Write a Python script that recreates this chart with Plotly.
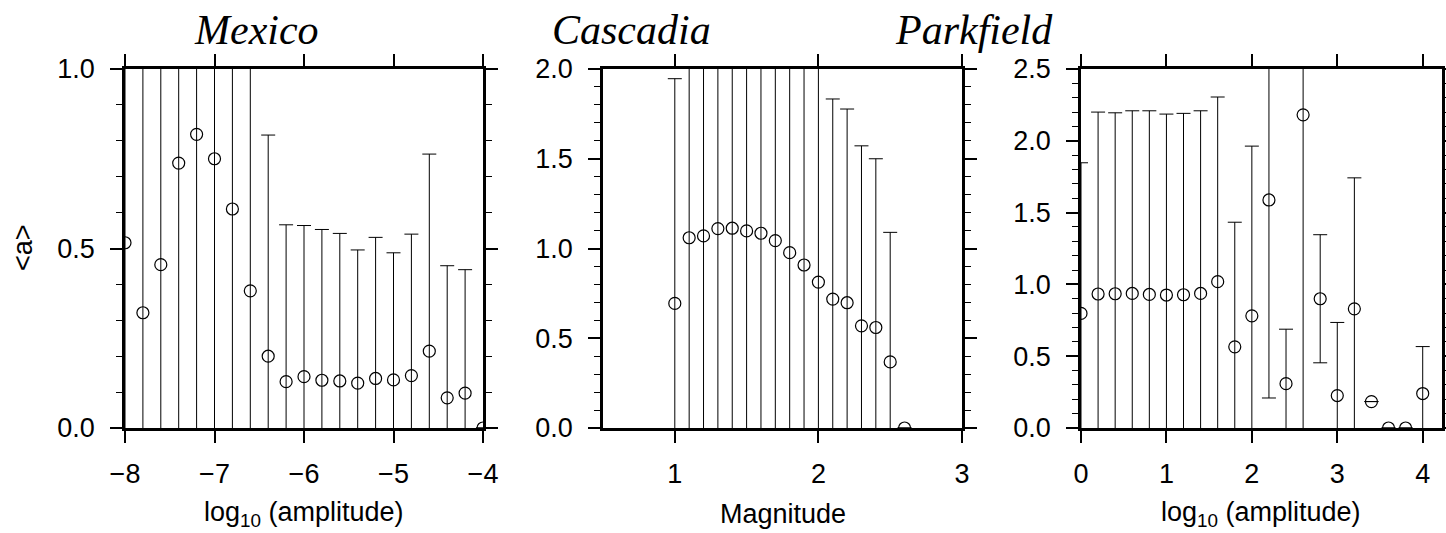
import plotly.graph_objects as go

# ---------------- data ----------------
mex_x = [-8.0, -7.8, -7.6, -7.4, -7.2, -7.0, -6.8, -6.6, -6.4, -6.2, -6.0,
         -5.8, -5.6, -5.4, -5.2, -5.0, -4.8, -4.6, -4.4, -4.2, -4.0]
mex_y = [0.516, 0.321, 0.455, 0.738, 0.818, 0.750, 0.610, 0.382, 0.200, 0.129, 0.143,
         0.133, 0.131, 0.125, 0.138, 0.134, 0.146, 0.214, 0.084, 0.097, 0.0]
mex_err = [1.10, 1.05, 1.00, 1.10, 1.20, 1.15, 1.05, 0.90, 0.616, 0.437, 0.421,
           0.420, 0.411, 0.371, 0.393, 0.354, 0.394, 0.549, 0.368, 0.344, None]

cas_x = [1.0, 1.1, 1.2, 1.3, 1.4, 1.5, 1.6, 1.7, 1.8, 1.9, 2.0,
         2.1, 2.2, 2.3, 2.4, 2.5, 2.6]
cas_y = [0.694, 1.060, 1.070, 1.111, 1.113, 1.098, 1.085, 1.044, 0.977, 0.908, 0.813,
         0.718, 0.698, 0.569, 0.560, 0.368, 0.0]
cas_err = [1.252, 1.30, 1.25, 1.20, 1.20, 1.25, 1.20, 1.15, 1.10, 1.15, 1.20,
           1.115, 1.079, 1.003, 0.940, 0.722, None]

park_x = [0.0, 0.2, 0.4, 0.6, 0.8, 1.0, 1.2, 1.4, 1.6, 1.8, 2.0,
          2.2, 2.4, 2.6, 2.8, 3.0, 3.2, 3.4, 3.6, 3.8, 4.0]
park_y = [0.798, 0.933, 0.935, 0.937, 0.930, 0.926, 0.928, 0.937, 1.019, 0.565, 0.781,
          1.588, 0.309, 2.181, 0.900, 0.226, 0.830, 0.184, 0.0, 0.0, 0.240]
park_err = [1.049, 1.267, 1.260, 1.272, 1.279, 1.260, 1.263, 1.272, 1.286, 0.868, 1.182,
            1.379, 0.379, 2.60, 0.446, 0.509, 0.912, 0.0005, None, None, 0.327]

titles = ["Mexico", "Cascadia", "Parkfield"]
xlabels = ["log<sub>10</sub> (amplitude)", "Magnitude", "log<sub>10</sub> (amplitude)"]
ylabel = "&lt;a&gt;"

# ---------------- layout geometry ----------------
W, H = 1446, 533
px_x = [(125, 483), (603, 962), (1081, 1441.5)]
top, bot = 69, 428
ydom = [1 - bot / H, 1 - top / H]

xranges = [[-8, -4], [0.5, 3], [0, 4.22]]
xticks = [[-8, -7, -6, -5, -4], [1, 2, 3], [0, 1, 2, 3, 4]]
yranges = [[0, 1.0], [0, 2.0], [0, 2.5]]
ytickvals = [[0, 0.5, 1.0], [0, 0.5, 1.0, 1.5, 2.0], [0, 0.5, 1.0, 1.5, 2.0, 2.5]]

FONT = "Liberation Sans, Arial, Helvetica, sans-serif"
SERIF = "Liberation Serif, Times New Roman, serif"
fig = go.Figure()

series = [(mex_x, mex_y, mex_err), (cas_x, cas_y, cas_err), (park_x, park_y, park_err)]
for i, (xs, ys, es) in enumerate(series):
    sfx = "" if i == 0 else str(i + 1)
    fig.add_trace(go.Scatter(
        x=xs, y=ys, mode="markers",
        xaxis="x" + sfx, yaxis="y" + sfx,
        marker=dict(symbol="circle-open", size=12, color="black", line=dict(width=1.2, color="black")),
        error_y=dict(type="data", array=es, symmetric=True, color="black", thickness=1, width=7),
        showlegend=False, cliponaxis=True,
    ))

for i in range(3):
    sfx = "" if i == 0 else str(i + 1)
    x0, x1 = px_x[i]
    common = dict(showline=True, linewidth=2.5, linecolor="black", mirror="ticks",
                  ticks="outside", ticklen=12, tickwidth=1.5, tickcolor="black",
                  showgrid=False, zeroline=False, automargin=False,
                  tickfont=dict(family=FONT, size=27, color="black"))
    fig.layout["xaxis" + sfx] = dict(
        domain=[x0 / W, x1 / W], anchor="y" + sfx, range=xranges[i],
        tickvals=xticks[i], ticklabelstandoff=8, **common)
    fig.layout["yaxis" + sfx] = dict(
        domain=ydom, anchor="x" + sfx, range=yranges[i],
        tickvals=ytickvals[i], tickformat=".1f", ticklabelstandoff=10,
        minor=dict(dtick=0.1, ticks="outside", ticklen=6, tickwidth=1.2, tickcolor="black"),
        **common)

annotations = []
title_pos = [256, 631, 974]
for t, cx in zip(titles, title_pos):
    annotations.append(dict(text=t, x=cx / W, y=1 - 30 / H, xref="paper", yref="paper",
                            xanchor="center", yanchor="middle", showarrow=False,
                            font=dict(family=SERIF, size=42, color="black", style="italic")))
for lab, (x0, x1) in zip(xlabels, px_x):
    annotations.append(dict(text=lab, x=(x0 + x1) / 2 / W, y=1 - 514 / H, xref="paper", yref="paper",
                            xanchor="center", yanchor="middle", showarrow=False,
                            font=dict(family=FONT, size=27, color="black")))
annotations.append(dict(text=ylabel, x=23 / W, y=1 - 248 / H, xref="paper", yref="paper",
                        xanchor="center", yanchor="middle", showarrow=False, textangle=-90,
                        font=dict(family=FONT, size=27, color="black")))

fig.update_layout(template="none", width=W, height=H,
                  margin=dict(l=0, r=0, t=0, b=0, pad=0, autoexpand=False),
                  paper_bgcolor="white", plot_bgcolor="white",
                  annotations=annotations)

fig.write_html("out.html",
               post_script="document.body.style.margin='0';document.body.style.overflow='hidden';")
